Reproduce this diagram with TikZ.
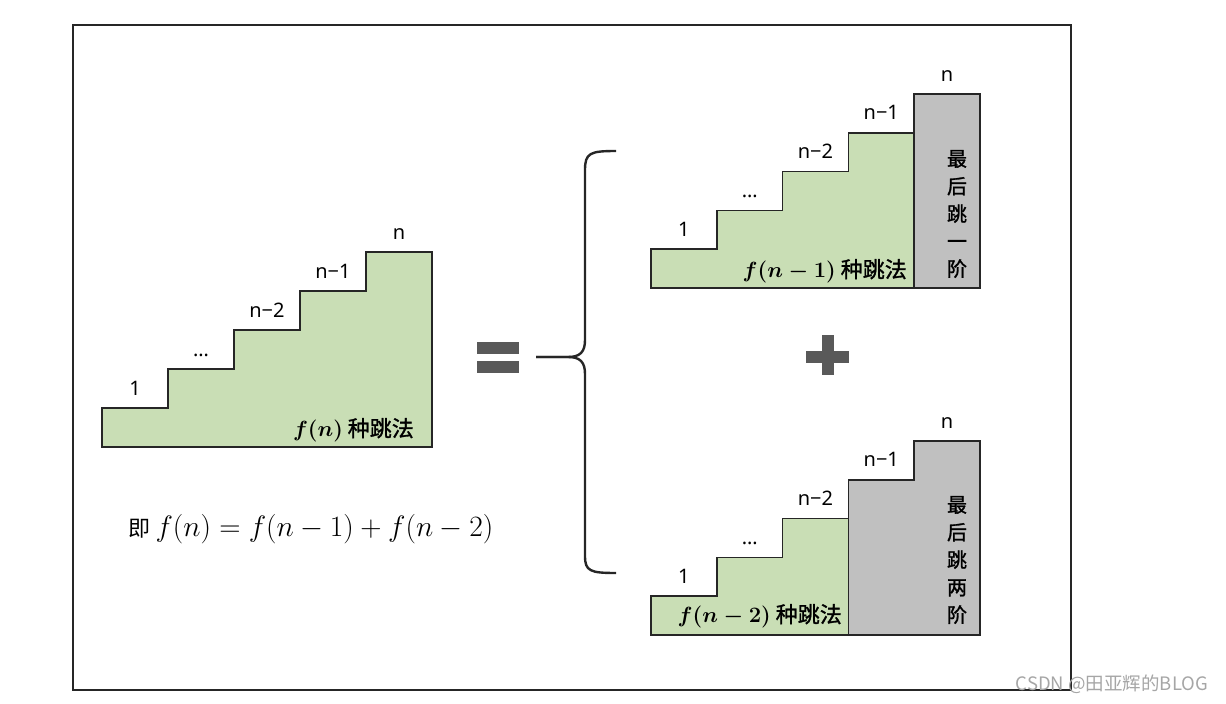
\RequirePackage{fix-cm}
\documentclass[tikz,border=0pt]{standalone}
\usepackage{amsmath}
\usepackage[no-math]{fontspec}
\setmainfont{Noto Sans}
\newfontfamily\cjk{Noto Sans CJK SC}
\newfontfamily\cjkb[FakeBold=1.3]{Noto Sans CJK SC}
\usetikzlibrary{positioning}
\definecolor{stepGreen}{HTML}{C9DEB5}
\definecolor{stepGray}{HTML}{C0C0C0}
\definecolor{lineDark}{HTML}{262626}
\definecolor{signGray}{HTML}{595959}
\definecolor{markGray}{HTML}{A6A6A6}

\tikzset{
  stairline/.style={draw=lineDark, line width=1.5pt, line join=miter},
  greenstep/.style={stairline, fill=stepGreen},
  graystep/.style={stairline, fill=stepGray},
  steplabel/.style={anchor=base, inner sep=0pt, font=\fontsize{20}{24}\selectfont},
  waycount/.style={anchor=east, inner sep=2pt, font=\fontsize{21}{24}\cjkb},
  lastjump/.style={align=center, inner sep=0pt, font=\fontsize{20}{27.5}\cjkb},
  signbar/.style={fill=signGray, draw=none},
}
\newcommand{\waymath}[1]{\fontsize{22}{26}\selectfont$\boldsymbol{#1}$}

\begin{document}
\begin{tikzpicture}[x=1pt, y=-1pt]
  \useasboundingbox (0,0) rectangle (1226,704);
  \draw[lineDark, line width=1.6pt] (73,25) rectangle (1071,690);

  % left staircase: f(n)
  \draw[greenstep] (102,447) -- (102,408) -- (168,408) -- (168,369) -- (234,369)
    -- (234,330) -- (300,330) -- (300,291) -- (366,291) -- (366,252) -- (432,252)
    -- (432,447) -- cycle;
  \foreach \lab [count=\i from 0] in {1,\ldots,n−2,n−1,n}
    \node[steplabel] (left\i) at ({135+66*\i},{408-39*\i-13}) {\lab};
  \node[waycount] (leftways) at (416,430) {\waymath{f(n)} 种跳法};

  % equals sign and brace
  \fill[signbar] (477,342) rectangle (519,354);
  \fill[signbar] (477,361) rectangle (519,373);
  \coordinate (braceTop) at (616,151);
  \coordinate (braceTip) at (536,357);
  \coordinate (braceBot) at (616,573);
  \draw[lineDark, line width=2.4pt] (braceTop) .. controls (590,151) and (585,153) .. (585,170)
    -- (585,340) .. controls (585,352) and (580,357) .. (568,357) -- (braceTip);
  \draw[lineDark, line width=2.4pt] (braceTip) -- (568,357) .. controls (580,357) and (585,362) .. (585,374)
    -- (585,556) .. controls (585,571) and (590,573) .. (braceBot);

  % top right: last jump of one step
  \draw[greenstep] (651,288) -- (651,249.2) -- (716.8,249.2) -- (716.8,210.4) -- (782.6,210.4)
    -- (782.6,171.6) -- (848.4,171.6) -- (848.4,132.8) -- (914.2,132.8) -- (914.2,288) -- cycle;
  \draw[graystep] (914.2,94) rectangle (980,288);
  \foreach \lab [count=\i from 0] in {1,\ldots,n−2,n−1,n}
    \node[steplabel] (up\i) at ({683.9+65.8*\i},{249.2-38.8*\i-13}) {\lab};
  \node[waycount] (upways) at (909,271) {\waymath{f(n-1)} 种跳法};
  \node[lastjump] (upjump) at (957,214) {最\\后\\跳\\一\\阶};

  % plus sign
  \fill[signbar] (806,351) rectangle (849,363);
  \fill[signbar] (822,335) rectangle (834,375);

  % bottom right: last jump of two steps
  \draw[greenstep] (651,635) -- (651,596.2) -- (716.8,596.2) -- (716.8,557.4) -- (782.6,557.4)
    -- (782.6,518.6) -- (848.4,518.6) -- (848.4,635) -- cycle;
  \draw[graystep] (848.4,635) -- (848.4,479.8) -- (914.2,479.8) -- (914.2,441) -- (980,441)
    -- (980,635) -- cycle;
  \foreach \lab [count=\i from 0] in {1,\ldots,n−2,n−1,n}
    \node[steplabel] (down\i) at ({683.9+65.8*\i},{596.2-38.8*\i-13}) {\lab};
  \node[waycount] (downways) at (844,616) {\waymath{f(n-2)} 种跳法};
  \node[lastjump] (downjump) at (957,560) {最\\后\\跳\\两\\阶};

  % the recurrence
  \node (recur) at (311,529) {\fontsize{22}{26}\cjk 即\ \fontsize{29.5}{32}\selectfont$f(n)=f(n-1)+f(n-2)$};

  \node[text=markGray, font=\fontsize{18.5}{20}\cjk] (mark) at (1112,684) {CSDN @田亚辉的BLOG};
\end{tikzpicture}
\end{document}
